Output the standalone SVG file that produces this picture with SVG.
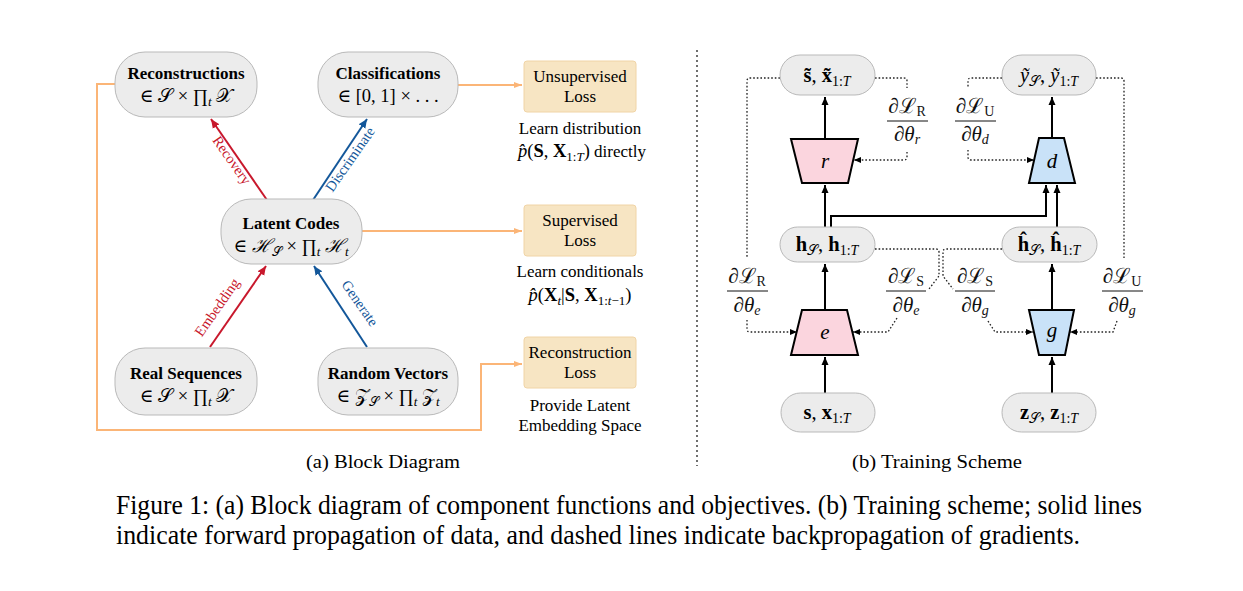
<svg xmlns="http://www.w3.org/2000/svg" width="1243" height="591" viewBox="0 0 1243 591">
<style>
.serif{font-family:"Liberation Serif","DejaVu Serif",serif}
.pill{fill:#ececec;stroke:#b9b9b9;stroke-width:1}
.loss{fill:#f7e5c3;stroke:#f0d4a6;stroke-width:1}
.title{font-family:"Liberation Serif",serif;font-weight:bold;font-size:17px;fill:#000}
.math{font-family:"Liberation Serif","DejaVu Serif",serif;font-size:18.5px;fill:#000}
.rmath{font-family:"Liberation Serif","DejaVu Serif",serif;font-size:20.5px;fill:#000}
.txt{font-family:"Liberation Serif",serif;font-size:17px;fill:#000}
.orange{stroke:#fbb577;stroke-width:2;fill:none}
.red{stroke:#c8182c;stroke-width:2;fill:none}
.blue{stroke:#13579a;stroke-width:2;fill:none}
.solid{stroke:#000;stroke-width:2;fill:none}
.dot{stroke:#222;stroke-width:1.3;stroke-dasharray:1.6 2;fill:none}
.trapP{fill:#fbd5de;stroke:#000;stroke-width:2}
.trapB{fill:#c9e2f8;stroke:#000;stroke-width:2}
.frac{font-family:"Liberation Serif","DejaVu Serif",serif;font-size:21px;fill:#111}
</style>
<defs>
<marker id="ao" markerUnits="userSpaceOnUse" markerWidth="10" markerHeight="10" refX="8" refY="4" orient="auto"><path d="M0,1 L8,4 L0,7 Z" fill="#fbb577"/></marker>
<marker id="ar" markerUnits="userSpaceOnUse" markerWidth="12" markerHeight="12" refX="9" refY="5" orient="auto"><path d="M0,1 L9,5 L0,9 Z" fill="#c8182c"/></marker>
<marker id="ab" markerUnits="userSpaceOnUse" markerWidth="12" markerHeight="12" refX="9" refY="5" orient="auto"><path d="M0,1 L9,5 L0,9 Z" fill="#13579a"/></marker>
<marker id="ak" markerUnits="userSpaceOnUse" markerWidth="12" markerHeight="12" refX="8" refY="4" orient="auto"><path d="M0,0.5 L8,4 L0,7.5 Z" fill="#000"/></marker>
<marker id="ad" markerUnits="userSpaceOnUse" markerWidth="10" markerHeight="10" refX="7" refY="3.5" orient="auto"><path d="M0,0.5 L7,3.5 L0,6.5 Z" fill="#000"/></marker>
</defs>

<!-- connectors -->
<g id="connectors">
<path class="orange" d="M458,85 H522" marker-end="url(#ao)"/>
<path class="orange" d="M362,231 H522" marker-end="url(#ao)"/>
<path class="orange" d="M115,84 H97 V430 H481 V364 H522" marker-end="url(#ao)"/>
<path class="red" d="M267,200 L211,119" marker-end="url(#ar)"/>
<path class="blue" d="M313,200 L367,119" marker-end="url(#ab)"/>
<path class="red" d="M210,347 L266,266" marker-end="url(#ar)"/>
<path class="blue" d="M367,347 L314,266" marker-end="url(#ab)"/>
<text class="serif" font-size="14.5" fill="#c8182c" text-anchor="middle" transform="translate(228,163) rotate(55)">Recovery</text>
<text class="serif" font-size="14.5" fill="#13579a" text-anchor="middle" transform="translate(354,162) rotate(-55)">Discriminate</text>
<text class="serif" font-size="14.5" fill="#c8182c" text-anchor="middle" transform="translate(221,310) rotate(-55)">Embedding</text>
<text class="serif" font-size="14.5" fill="#13579a" text-anchor="middle" transform="translate(356,306) rotate(55)">Generate</text>
<path d="M697,50 V466" stroke="#222" stroke-width="1.3" stroke-dasharray="2 3" fill="none"/>
<path class="solid" d="M825,139 V97" marker-end="url(#ak)"/>
<path class="solid" d="M1052,138 V97" marker-end="url(#ak)"/>
<path class="solid" d="M825,227 V185" marker-end="url(#ak)"/>
<path class="solid" d="M831,227 V216 H1046 V185" marker-end="url(#ak)"/>
<path class="solid" d="M1057,227 V185" marker-end="url(#ak)"/>
<path class="solid" d="M825,310 V264" marker-end="url(#ak)"/>
<path class="solid" d="M1052,310 V264" marker-end="url(#ak)"/>
<path class="solid" d="M825,393 V357" marker-end="url(#ak)"/>
<path class="solid" d="M1052,393 V357" marker-end="url(#ak)"/>
<path class="dot" d="M780,78 H750 Q747,78 747,81 V257"/>
<path class="dot" d="M747,320 V329 Q747,332 750,332 H797" marker-end="url(#ad)"/>
<path class="dot" d="M875,78 H904 Q907,78 907,81 V88"/>
<path class="dot" d="M907,152 V157 Q907,160 904,160 H854" marker-end="url(#ad)"/>
<path class="dot" d="M1002,78 H971 Q968,78 968,81 V88"/>
<path class="dot" d="M968,150 V157 Q968,160 971,160 H1034" marker-end="url(#ad)"/>
<path class="dot" d="M1096,78 H1121 Q1124,78 1124,81 V258"/>
<path class="dot" d="M1117,321 L1113,332 H1070" marker-end="url(#ad)"/>
<path class="dot" d="M875,249 H936 Q939,249 939,252 V276 L929,289"/>
<path class="dot" d="M1002,249 H946 Q943,249 943,252 V276 L953,289"/>
<path class="dot" d="M897,318 L888,332 H853" marker-end="url(#ad)"/>
<path class="dot" d="M988,321 L995,332 H1033" marker-end="url(#ad)"/>
</g>

<g id="reconstructions">
<rect class="pill" x="115" y="52" width="142" height="65" rx="30"/>
<text class="title" x="186" y="79" text-anchor="middle">Reconstructions</text>
<text class="math" x="186" y="102" text-anchor="middle">∈ 𝒮 × ∏<tspan font-style="italic" font-size="13" dy="4">t</tspan><tspan dy="-4"> 𝒳</tspan></text>
</g>
<g id="classifications">
<rect class="pill" x="318" y="52" width="140" height="65" rx="30"/>
<text class="title" x="388" y="79" text-anchor="middle">Classifications</text>
<text class="math" x="388" y="102" text-anchor="middle">∈ [0, 1] × . . .</text>
</g>
<g id="latent">
<rect class="pill" x="221" y="199" width="141" height="65" rx="30"/>
<text class="title" x="291" y="229" text-anchor="middle">Latent Codes</text>
<text class="math" x="291" y="252" text-anchor="middle">∈ <tspan font-style="italic">ℋ</tspan><tspan font-size="13" dy="4">𝒮</tspan><tspan dy="-4"> × ∏</tspan><tspan font-style="italic" font-size="13" dy="4">t</tspan><tspan dy="-4"> </tspan><tspan font-style="italic">ℋ</tspan><tspan font-style="italic" font-size="13" dy="4">t</tspan></text>
</g>
<g id="real">
<rect class="pill" x="115" y="348" width="142" height="67" rx="30"/>
<text class="title" x="186" y="379" text-anchor="middle">Real Sequences</text>
<text class="math" x="186" y="402" text-anchor="middle">∈ 𝒮 × ∏<tspan font-style="italic" font-size="13" dy="4">t</tspan><tspan dy="-4"> 𝒳</tspan></text>
</g>
<g id="random">
<rect class="pill" x="318" y="348" width="140" height="67" rx="30"/>
<text class="title" x="388" y="379" text-anchor="middle">Random Vectors</text>
<text class="math" x="388" y="402" text-anchor="middle">∈ 𝒵<tspan font-size="13" dy="4">𝒮</tspan><tspan dy="-4"> × ∏</tspan><tspan font-style="italic" font-size="13" dy="4">t</tspan><tspan dy="-4"> 𝒵</tspan><tspan font-style="italic" font-size="13" dy="4">t</tspan></text>
</g>
<g id="unsup">
<rect class="loss" x="524" y="61" width="112" height="51" rx="3"/>
<text class="txt" x="580" y="82" text-anchor="middle">Unsupervised</text>
<text class="txt" x="580" y="102" text-anchor="middle">Loss</text>
<text class="txt" x="580" y="134" text-anchor="middle">Learn distribution</text>
<text class="math" x="582" y="157" text-anchor="middle"><tspan font-style="italic">p̂</tspan>(<tspan font-weight="bold">S</tspan>, <tspan font-weight="bold">X</tspan><tspan font-size="13" dy="4">1:<tspan font-style="italic">T</tspan></tspan><tspan dy="-4">)</tspan><tspan font-size="17"> directly</tspan></text>
</g>
<g id="sup">
<rect class="loss" x="524" y="205" width="112" height="51" rx="3"/>
<text class="txt" x="580" y="226" text-anchor="middle">Supervised</text>
<text class="txt" x="580" y="246" text-anchor="middle">Loss</text>
<text class="txt" x="580" y="277" text-anchor="middle">Learn conditionals</text>
<text class="math" x="580" y="301" text-anchor="middle"><tspan font-style="italic">p̂</tspan>(<tspan font-weight="bold">X</tspan><tspan font-style="italic" font-size="13" dy="4">t</tspan><tspan dy="-4">|</tspan><tspan font-weight="bold">S</tspan>, <tspan font-weight="bold">X</tspan><tspan font-size="13" dy="4">1:<tspan font-style="italic">t</tspan>−1</tspan><tspan dy="-4">)</tspan></text>
</g>
<g id="recloss">
<rect class="loss" x="524" y="337" width="112" height="51" rx="3"/>
<text class="txt" x="580" y="358" text-anchor="middle">Reconstruction</text>
<text class="txt" x="580" y="378" text-anchor="middle">Loss</text>
<text class="txt" x="580" y="411" text-anchor="middle">Provide Latent</text>
<text class="txt" x="580" y="431" text-anchor="middle">Embedding Space</text>
</g>

<g id="stilde">
<rect class="pill" x="780" y="55" width="95" height="40" rx="20"/>
<text class="rmath" x="827" y="82" text-anchor="middle"><tspan font-weight="bold">s̃</tspan>, <tspan font-weight="bold">x̃</tspan><tspan font-size="14" dy="4">1:<tspan font-style="italic">T</tspan></tspan></text>
</g>
<g id="ytilde">
<rect class="pill" x="1002" y="55" width="94" height="40" rx="20"/>
<text class="rmath" x="1049" y="82" text-anchor="middle"><tspan font-style="italic">ỹ</tspan><tspan font-size="14" dy="4">𝒮</tspan><tspan dy="-4">, </tspan><tspan font-style="italic">ỹ</tspan><tspan font-size="14" dy="4">1:<tspan font-style="italic">T</tspan></tspan></text>
</g>
<g id="r">
<polygon class="trapP" points="791,139 858,139 848,183 802,183"/>
<text class="serif" font-size="21" font-style="italic" x="825" y="168" text-anchor="middle">r</text>
</g>
<g id="d">
<polygon class="trapB" points="1039,138 1064,138 1075,183 1029,183"/>
<text class="serif" font-size="21" font-style="italic" x="1052" y="168" text-anchor="middle">d</text>
</g>
<g id="h">
<rect class="pill" x="780" y="227" width="95" height="35" rx="17.5"/>
<text class="rmath" x="827" y="251" text-anchor="middle"><tspan font-weight="bold">h</tspan><tspan font-size="14" dy="4">𝒮</tspan><tspan dy="-4">, </tspan><tspan font-weight="bold">h</tspan><tspan font-size="14" dy="4">1:<tspan font-style="italic">T</tspan></tspan></text>
</g>
<g id="hhat">
<rect class="pill" x="1002" y="227" width="95" height="35" rx="17.5"/>
<text class="rmath" x="1049" y="251" text-anchor="middle"><tspan font-weight="bold">ĥ</tspan><tspan font-size="14" dy="4">𝒮</tspan><tspan dy="-4">, </tspan><tspan font-weight="bold">ĥ</tspan><tspan font-size="14" dy="4">1:<tspan font-style="italic">T</tspan></tspan></text>
</g>
<g id="e">
<polygon class="trapP" points="802,310 847,310 858,355 791,355"/>
<text class="serif" font-size="21" font-style="italic" x="825" y="339" text-anchor="middle">e</text>
</g>
<g id="g">
<polygon class="trapB" points="1029,310 1074,310 1065,355 1039,355"/>
<text class="serif" font-size="21" font-style="italic" x="1052" y="337" text-anchor="middle">g</text>
</g>
<g id="sx">
<rect class="pill" x="781" y="393" width="94" height="39" rx="19.5"/>
<text class="rmath" x="827" y="419" text-anchor="middle"><tspan font-weight="bold">s</tspan>, <tspan font-weight="bold">x</tspan><tspan font-size="14" dy="4">1:<tspan font-style="italic">T</tspan></tspan></text>
</g>
<g id="z">
<rect class="pill" x="1002" y="393" width="94" height="39" rx="19.5"/>
<text class="rmath" x="1049" y="419" text-anchor="middle"><tspan font-weight="bold">z</tspan><tspan font-size="14" dy="4">𝒮</tspan><tspan dy="-4">, </tspan><tspan font-weight="bold">z</tspan><tspan font-size="14" dy="4">1:<tspan font-style="italic">T</tspan></tspan></text>
</g>

<g id="grad-r">
<text class="frac" x="907" y="113" text-anchor="middle">∂ℒ<tspan font-size="14" dy="3">R</tspan></text>
<path d="M887,121 H928" stroke="#111" stroke-width="1"/>
<text class="frac" x="907" y="141" text-anchor="middle">∂<tspan font-style="italic">θ</tspan><tspan font-style="italic" font-size="14" dy="3">r</tspan></text>
</g>
<g id="grad-d">
<text class="frac" x="975" y="113" text-anchor="middle">∂ℒ<tspan font-size="14" dy="3">U</tspan></text>
<path d="M955,121 H996" stroke="#111" stroke-width="1"/>
<text class="frac" x="975" y="141" text-anchor="middle">∂<tspan font-style="italic">θ</tspan><tspan font-style="italic" font-size="14" dy="3">d</tspan></text>
</g>
<g id="grad-re">
<text class="frac" x="747" y="283" text-anchor="middle">∂ℒ<tspan font-size="14" dy="3">R</tspan></text>
<path d="M727,291 H768" stroke="#111" stroke-width="1"/>
<text class="frac" x="747" y="312" text-anchor="middle">∂<tspan font-style="italic">θ</tspan><tspan font-style="italic" font-size="14" dy="3">e</tspan></text>
</g>
<g id="grad-se">
<text class="frac" x="906" y="283" text-anchor="middle">∂ℒ<tspan font-size="14" dy="3">S</tspan></text>
<path d="M886,291 H926" stroke="#111" stroke-width="1"/>
<text class="frac" x="906" y="312" text-anchor="middle">∂<tspan font-style="italic">θ</tspan><tspan font-style="italic" font-size="14" dy="3">e</tspan></text>
</g>
<g id="grad-sg">
<text class="frac" x="975" y="283" text-anchor="middle">∂ℒ<tspan font-size="14" dy="3">S</tspan></text>
<path d="M955,291 H995" stroke="#111" stroke-width="1"/>
<text class="frac" x="975" y="312" text-anchor="middle">∂<tspan font-style="italic">θ</tspan><tspan font-style="italic" font-size="14" dy="3">g</tspan></text>
</g>
<g id="grad-ug">
<text class="frac" x="1122" y="283" text-anchor="middle">∂ℒ<tspan font-size="14" dy="3">U</tspan></text>
<path d="M1102,291 H1143" stroke="#111" stroke-width="1"/>
<text class="frac" x="1122" y="312" text-anchor="middle">∂<tspan font-style="italic">θ</tspan><tspan font-style="italic" font-size="14" dy="3">g</tspan></text>
</g>

<text class="serif" font-size="18" x="306" y="468" textLength="154" lengthAdjust="spacingAndGlyphs">(a) Block Diagram</text>
<text class="serif" font-size="18" x="852" y="468" textLength="170" lengthAdjust="spacingAndGlyphs">(b) Training Scheme</text>
<text class="serif" font-size="27" x="116" y="514" textLength="1026" lengthAdjust="spacingAndGlyphs">Figure 1: (a) Block diagram of component functions and objectives. (b) Training scheme; solid lines</text>
<text class="serif" font-size="27" x="116" y="544" textLength="964" lengthAdjust="spacingAndGlyphs">indicate forward propagation of data, and dashed lines indicate backpropagation of gradients.</text>
</svg>
